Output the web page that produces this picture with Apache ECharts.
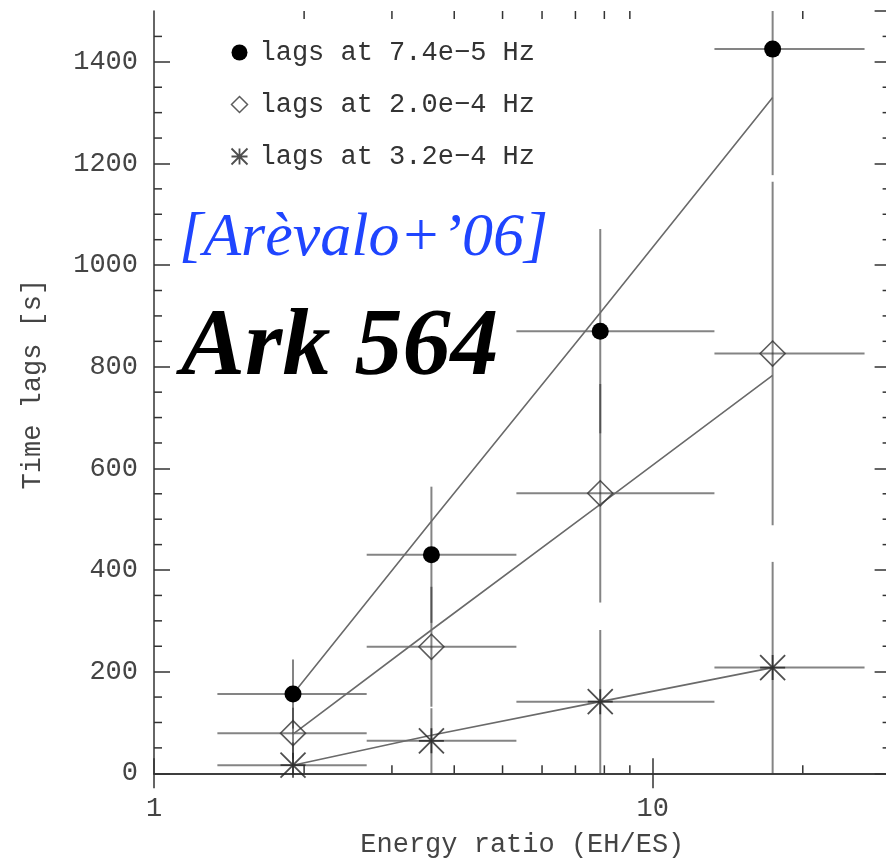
<!DOCTYPE html>
<html><head><meta charset="utf-8">
<script src="https://cdn.jsdelivr.net/npm/echarts@6/dist/echarts.min.js"></script>
<style>html,body{margin:0;padding:0;background:#fff}#c{width:886px;height:866px}</style>
</head><body><div id="c"></div>
<script>
// ---- data ----
const energyRatio = [1.9, 3.6, 7.85, 17.4];
const binLow  = [1.34, 2.67, 5.33, 13.3];
const binHigh = [2.67, 5.33, 13.3, 26.6];

const lags74 = [156, 430, 870, 1425];
const err74  = [68, 134, 201, 248];
const lags20 = [79, 249, 551, 826];
const err20  = [50, 118, 215, 338];
const lags32 = [16, 64, 141, 208];
const err32  = [45, 64, 141, 208];

const fit74 = [156, 496, 906, 1330];
const fit20 = [77, 282, 529, 783];
const fit32 = [16, 75, 141, 208];

const xMinorTicks = [2, 3, 4, 5, 6, 7, 8, 9, 20];
const yMinorTicks = [50,100,150,250,300,350,450,500,550,650,700,750,850,900,950,1050,1100,1150,1250,1300,1350,1450];

const names = ['lags at 7.4e\u22125 Hz', 'lags at 2.0e\u22124 Hz', 'lags at 3.2e\u22124 Hz'];

// ---- style ----
const FONT = "'Liberation Mono', 'DejaVu Sans Mono', monospace";
const AX = '#333';
const ERR = 'rgba(50,50,50,0.6)';
const FIT = '#6a6a6a';
const STAR = 'path://M0,0L10,10M10,0L0,10M5,0L5,10M0,5L10,5';
const XMIN = 1, XMAX = 30, YMIN = 0, YMAX = 1500;

function pairs(xs, ys) { return xs.map((x, i) => [x, ys[i]]); }
function errData(ys, es) {
  return energyRatio.map((x, i) => [x, ys[i], binLow[i], binHigh[i], ys[i] - es[i], ys[i] + es[i]]);
}
function clampY(v) { return Math.max(YMIN, Math.min(YMAX, v)); }

function renderErr(params, api) {
  const x = api.value(0), y = api.value(1);
  const p1 = api.coord([api.value(2), y]);
  const p2 = api.coord([api.value(3), y]);
  const q1 = api.coord([x, clampY(api.value(4))]);
  const q2 = api.coord([x, clampY(api.value(5))]);
  const st = { stroke: ERR, lineWidth: 2 };
  return { type: 'group', children: [
    { type: 'line', shape: { x1: p1[0], y1: p1[1], x2: p2[0], y2: p2[1] }, style: st },
    { type: 'line', shape: { x1: q1[0], y1: q1[1], x2: q2[0], y2: q2[1] }, style: st }
  ]};
}
function renderXTick(params, api) {
  const b = api.coord([api.value(0), YMIN]);
  const t = api.coord([api.value(0), YMAX]);
  const st = { stroke: AX, lineWidth: 1.5 };
  return { type: 'group', children: [
    { type: 'line', shape: { x1: b[0], y1: b[1], x2: b[0], y2: b[1] - 8 }, style: st },
    { type: 'line', shape: { x1: t[0], y1: t[1], x2: t[0], y2: t[1] + 8 }, style: st }
  ]};
}
function renderYTick(params, api) {
  const l = api.coord([XMIN, api.value(1)]);
  const r = api.coord([XMAX, api.value(1)]);
  const st = { stroke: AX, lineWidth: 1.5 };
  return { type: 'group', children: [
    { type: 'line', shape: { x1: l[0], y1: l[1], x2: l[0] + 8, y2: l[1] }, style: st },
    { type: 'line', shape: { x1: r[0], y1: r[1], x2: r[0] - 8, y2: r[1] }, style: st }
  ]};
}

const axisLine = { show: true, lineStyle: { color: AX, width: 1.5 } };
const tickStyle = { color: AX, width: 1.5 };
const labelStyle = { color: '#444', fontSize: 27, fontFamily: FONT };
const plain = v => String(Math.round(v));

const chart = echarts.init(document.getElementById('c'), null, { renderer: 'canvas' });
chart.setOption({
  animation: false,
  backgroundColor: '#fff',
  grid: { left: 154, top: 11, width: 736.6, height: 762.3, outerBoundsMode: 'none', containLabel: false },
  xAxis: [
    { type: 'log', logBase: 10, min: XMIN, max: XMAX, position: 'bottom',
      axisLine: axisLine, axisTick: { inside: true, length: 15, lineStyle: tickStyle },
      axisLabel: Object.assign({ margin: 22, showMaxLabel: false, formatter: plain }, labelStyle),
      splitLine: { show: false },
      name: 'Energy ratio (EH/ES)', nameLocation: 'middle', nameGap: 58,
      nameTextStyle: labelStyle },
    { type: 'log', logBase: 10, min: XMIN, max: XMAX, position: 'top',
      axisLine: axisLine, axisTick: { inside: true, length: 15, lineStyle: tickStyle },
      axisLabel: { show: false }, splitLine: { show: false } }
  ],
  yAxis: [
    { type: 'value', min: YMIN, max: YMAX, interval: 200, position: 'left',
      axisLine: axisLine, axisTick: { inside: true, length: 16, lineStyle: tickStyle },
      axisLabel: Object.assign({ margin: 16, showMaxLabel: false, formatter: plain }, labelStyle),
      splitLine: { show: false },
      name: 'Time lags [s]', nameLocation: 'middle', nameGap: 108,
      nameTextStyle: Object.assign({ padding: [0, 0, 0, 16] }, labelStyle) },
    { type: 'value', min: YMIN, max: YMAX, interval: 200, position: 'right',
      axisLine: axisLine, axisTick: { inside: true, length: 16, lineStyle: tickStyle },
      axisLabel: { show: false }, splitLine: { show: false } }
  ],
  legend: {
    orient: 'vertical', left: 229, top: 39, itemGap: 25, itemWidth: 16, itemHeight: 16,
    padding: 0, selectedMode: false,
    textStyle: { color: '#333', fontSize: 27, fontFamily: FONT, padding: [0, 0, 0, 7] },
    data: [
      { name: names[0], icon: 'circle', itemStyle: { color: '#000' } },
      { name: names[1], icon: 'diamond', itemStyle: { color: '#fff', borderColor: '#333', borderWidth: 1.5 } },
      { name: names[2], icon: STAR, itemStyle: { color: 'none', borderColor: '#222', borderWidth: 1.8 } }
    ]
  },
  graphic: [
    { type: 'text', left: 179, top: 208, z: 100,
      style: { text: '[Ar\u00e8valo+\u201906]', fill: '#1f45ff',
               font: "italic 62px 'Liberation Serif', 'DejaVu Serif', serif" } },
    { type: 'text', left: 181, top: 301, z: 100,
      style: { text: 'Ark 564', fill: '#000',
               font: "italic bold 96px 'Liberation Serif', 'DejaVu Serif', serif" } }
  ],
  series: [
    { type: 'custom', name: 'xticks', renderItem: renderXTick, data: xMinorTicks.map(v => [v, YMIN]), silent: true, z: 1 },
    { type: 'custom', name: 'yticks', renderItem: renderYTick, data: yMinorTicks.map(v => [XMIN, v]), silent: true, z: 1 },
    { type: 'custom', name: 'err74', renderItem: renderErr, data: errData(lags74, err74), encode: { x: 0, y: 1 }, silent: true, z: 2 },
    { type: 'custom', name: 'err20', renderItem: renderErr, data: errData(lags20, err20), encode: { x: 0, y: 1 }, silent: true, z: 2 },
    { type: 'custom', name: 'err32', renderItem: renderErr, data: errData(lags32, err32), encode: { x: 0, y: 1 }, silent: true, z: 2 },
    { type: 'line', name: 'fit74', data: pairs(energyRatio, fit74), symbol: 'none', lineStyle: { color: FIT, width: 1.6 }, z: 2, silent: true },
    { type: 'line', name: 'fit20', data: pairs(energyRatio, fit20), symbol: 'none', lineStyle: { color: FIT, width: 1.6 }, z: 2, silent: true },
    { type: 'line', name: 'fit32', data: pairs(energyRatio, fit32), symbol: 'none', lineStyle: { color: FIT, width: 1.6 }, z: 2, silent: true },
    { type: 'scatter', name: names[0], data: pairs(energyRatio, lags74), symbol: 'circle', symbolSize: 17,
      itemStyle: { color: '#000', opacity: 1 }, z: 5 },
    { type: 'scatter', name: names[1], data: pairs(energyRatio, lags20), symbol: 'diamond', symbolSize: 25,
      itemStyle: { color: 'rgba(255,255,255,0)', borderColor: '#333', borderWidth: 1.6 }, z: 5 },
    { type: 'scatter', name: names[2], data: pairs(energyRatio, lags32), symbol: STAR, symbolSize: 25,
      itemStyle: { color: 'none', borderColor: '#222', borderWidth: 1.8 }, z: 5 }
  ]
});
</script>
</body></html>
